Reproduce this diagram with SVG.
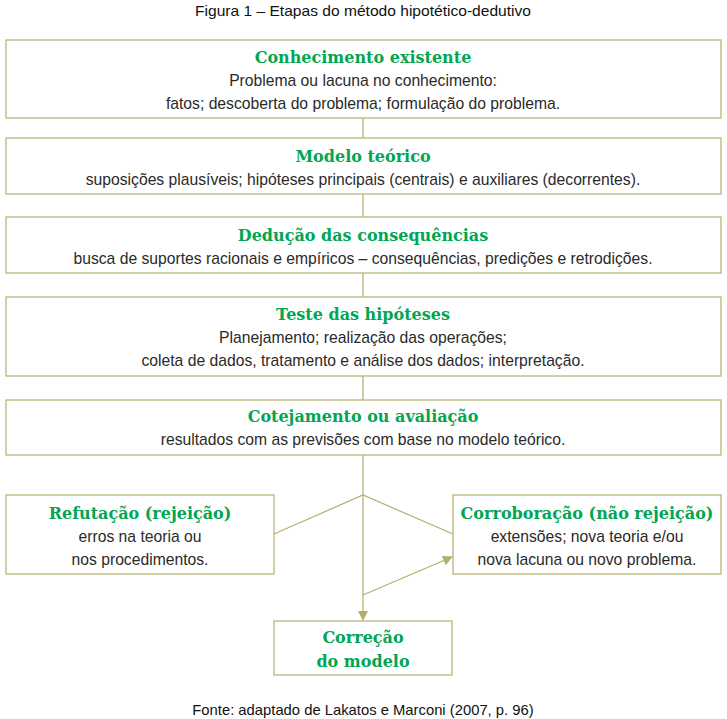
<svg xmlns="http://www.w3.org/2000/svg" width="727" height="719" viewBox="0 0 727 719">
<defs>
<marker id="ah" markerWidth="10" markerHeight="10" refX="9" refY="5" orient="auto" markerUnits="userSpaceOnUse">
<path d="M0,0 L10,5 L0,10 Z" fill="#B5AE6A"/>
</marker>
<style>
.box{fill:#fff;stroke:#B5AE6A;stroke-width:1.2}
.ttl{font-family:"DejaVu Serif",serif;font-weight:bold;font-size:16px;fill:#00A651;text-anchor:middle}
.txt{font-family:"Liberation Sans",Arial,sans-serif;font-size:15.7px;fill:#2a2a2a;text-anchor:middle}
.cap{font-family:"Liberation Sans",Arial,sans-serif;font-size:14.8px;fill:#111;text-anchor:middle}
.ln{fill:none;stroke:#B5AE6A;stroke-width:1.2}
</style>
</defs>
<rect width="727" height="719" fill="#fff"/>
<text class="cap" x="363" y="16" textLength="336" lengthAdjust="spacingAndGlyphs">Figura 1 – Etapas do método hipotético-dedutivo</text>
<g id="connectors">
<line class="ln" x1="363" y1="118" x2="363" y2="138"/>
<line class="ln" x1="363" y1="194" x2="363" y2="217"/>
<line class="ln" x1="363" y1="273" x2="363" y2="297"/>
<line class="ln" x1="363" y1="376" x2="363" y2="400"/>
<line class="ln" x1="363" y1="455" x2="363" y2="620" marker-end="url(#ah)"/>
<polyline class="ln" points="274,534 363,495 453,534"/>
<line class="ln" x1="363" y1="595" x2="452" y2="557" marker-end="url(#ah)"/>
</g>
<g id="n1">
<rect class="box" x="6" y="40" width="715" height="78"/>
<text class="ttl" x="363" y="63">Conhecimento existente</text>
<text class="txt" x="363" y="86">Problema ou lacuna no conhecimento:</text>
<text class="txt" x="363" y="109">fatos; descoberta do problema; formulação do problema.</text>
</g>
<g id="n2">
<rect class="box" x="6" y="138" width="715" height="56"/>
<text class="ttl" x="363" y="162">Modelo teórico</text>
<text class="txt" x="363" y="185">suposições plausíveis; hipóteses principais (centrais) e auxiliares (decorrentes).</text>
</g>
<g id="n3">
<rect class="box" x="6" y="217" width="715" height="56"/>
<text class="ttl" x="363" y="241">Dedução das consequências</text>
<text class="txt" x="363" y="264">busca de suportes racionais e empíricos – consequências, predições e retrodições.</text>
</g>
<g id="n4">
<rect class="box" x="6" y="297" width="715" height="79"/>
<text class="ttl" x="363" y="320">Teste das hipóteses</text>
<text class="txt" x="363" y="343">Planejamento; realização das operações;</text>
<text class="txt" x="363" y="366">coleta de dados, tratamento e análise dos dados; interpretação.</text>
</g>
<g id="n5">
<rect class="box" x="6" y="400" width="715" height="55"/>
<text class="ttl" x="363" y="422">Cotejamento ou avaliação</text>
<text class="txt" x="363" y="445">resultados com as previsões com base no modelo teórico.</text>
</g>
<g id="n6">
<rect class="box" x="6" y="495" width="268" height="79"/>
<text class="ttl" x="140" y="519">Refutação (rejeição)</text>
<text class="txt" x="140" y="542">erros na teoria ou</text>
<text class="txt" x="140" y="565">nos procedimentos.</text>
</g>
<g id="n7">
<rect class="box" x="453" y="495" width="268" height="79"/>
<text class="ttl" x="587" y="519">Corroboração (não rejeição)</text>
<text class="txt" x="587" y="542">extensões; nova teoria e/ou</text>
<text class="txt" x="587" y="565">nova lacuna ou novo problema.</text>
</g>
<g id="n8">
<rect class="box" x="274" y="621" width="178" height="54"/>
<text class="ttl" x="363" y="643">Correção</text>
<text class="ttl" x="363" y="667">do modelo</text>
</g>
<text class="cap" x="363" y="715">Fonte: adaptado de Lakatos e Marconi (2007, p. 96)</text>
</svg>
